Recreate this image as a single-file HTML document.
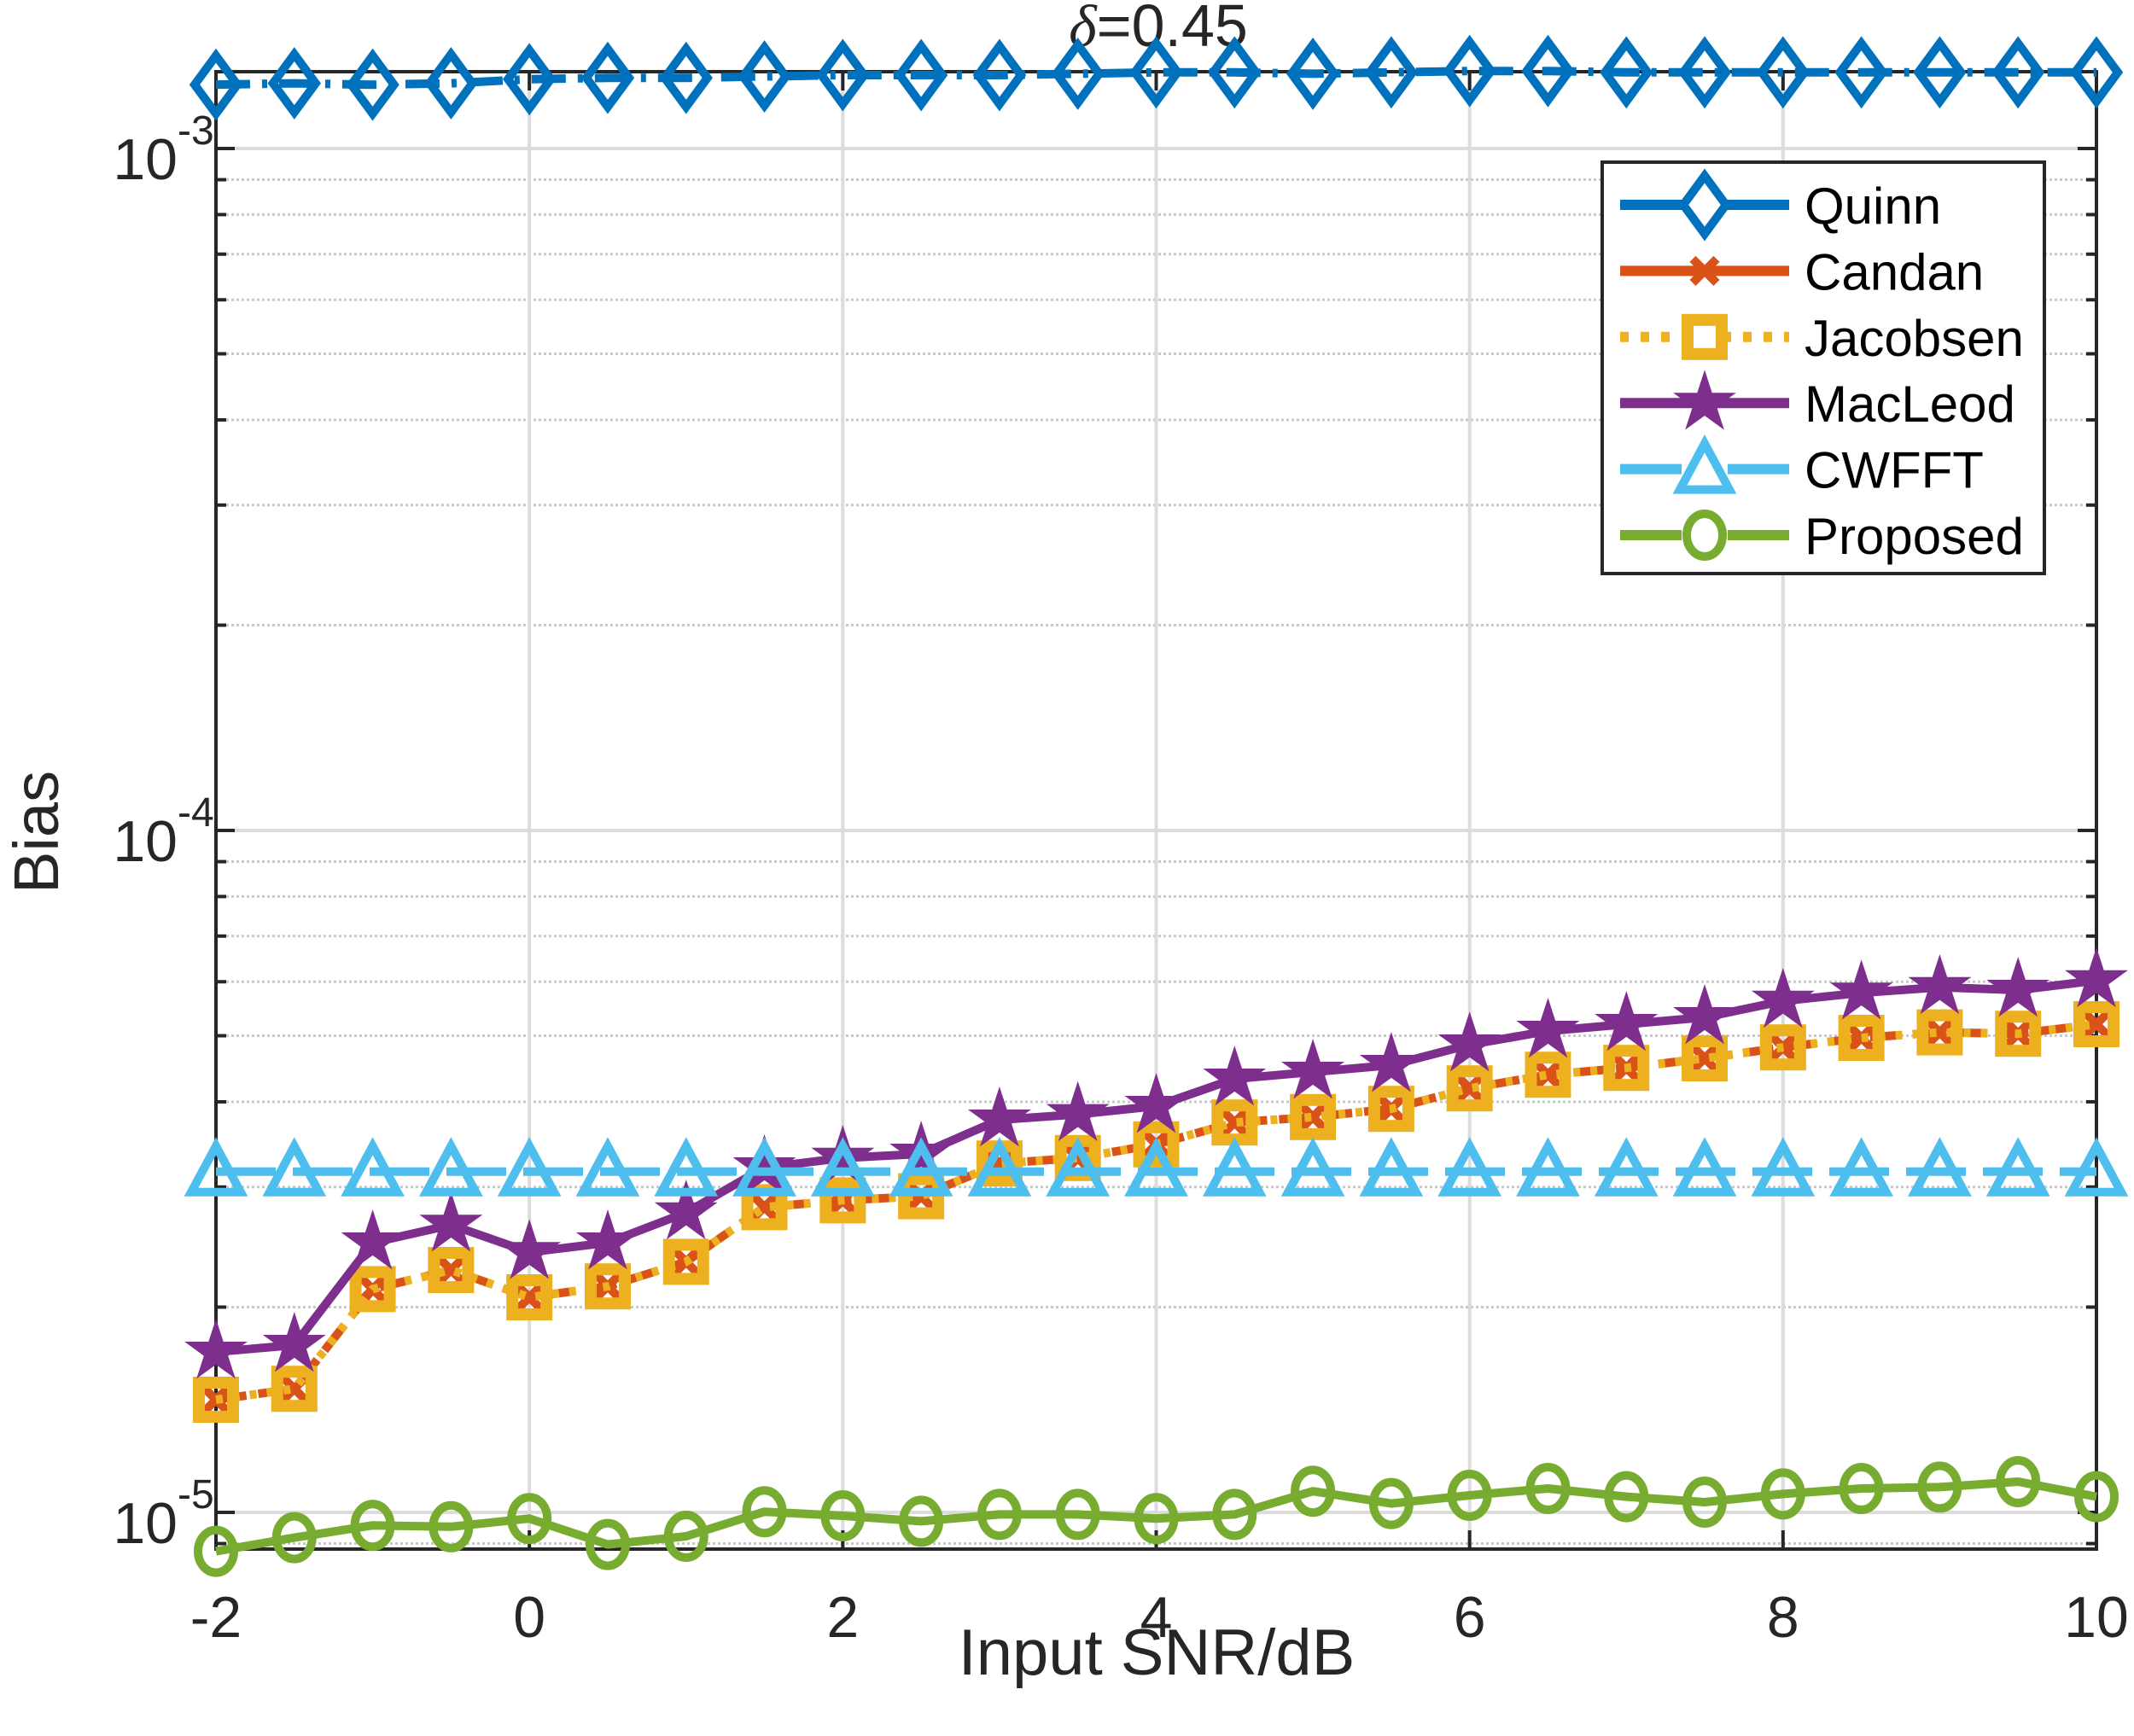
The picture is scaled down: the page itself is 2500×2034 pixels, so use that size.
<!DOCTYPE html>
<html><head><meta charset="utf-8"><style>
html,body{margin:0;padding:0;background:#fff}
svg{display:block}
text{font-family:"Liberation Sans",Arial,sans-serif;fill:#262626}
</style></head><body>
<svg id="s" width="2500" height="2034" viewBox="0 0 2500 2034" xmlns="http://www.w3.org/2000/svg"></svg>
<script>
const S=document.getElementById('s');const NS='http://www.w3.org/2000/svg';
function el(t,a,p){const e=document.createElementNS(NS,t);for(const k in a)e.setAttribute(k,a[k]);(p||S).appendChild(e);return e;}
const L=253,R=2456,T=84,B=1815;
const X=v=>L+(v+2)*(R-L)/12;
const Y=v=>174+(-3-Math.log10(v))*799;
for(let d=-6;d<=-3;d++)for(let m=2;m<=9;m++){const y=Y(m*Math.pow(10,d));if(y>T&&y<B)el('line',{x1:L,x2:R,y1:y,y2:y,stroke:'#c8c8c8','stroke-width':3,'stroke-dasharray':'3 3'});}
[1e-3,1e-4,1e-5].forEach(v=>el('line',{x1:L,x2:R,y1:Y(v),y2:Y(v),stroke:'#dcdcdc','stroke-width':4}));
for(let v=0;v<=8;v+=2)el('line',{x1:X(v),x2:X(v),y1:T,y2:B,stroke:'#dcdcdc','stroke-width':4});
el('rect',{x:L,y:T,width:R-L,height:B-T,fill:'none',stroke:'#262626','stroke-width':4});
for(let v=-2;v<=10;v+=2){el('line',{x1:X(v),x2:X(v),y1:B,y2:B-22,stroke:'#262626','stroke-width':4});el('line',{x1:X(v),x2:X(v),y1:T,y2:T+22,stroke:'#262626','stroke-width':4});
 const t=el('text',{x:X(v),y:1918,'font-size':68,'text-anchor':'middle'});t.textContent=v;}
for(let d=-6;d<=-3;d++)for(let m=1;m<=9;m++){const y=Y(m*Math.pow(10,d));if(y<T||y>B)continue;const len=m==1?22:12;
 el('line',{x1:L,x2:L+len,y1:y,y2:y,stroke:'#262626','stroke-width':4});el('line',{x1:R,x2:R-len,y1:y,y2:y,stroke:'#262626','stroke-width':4});}
[[1e-3,'-3'],[1e-4,'-4'],[1e-5,'-5']].forEach(([v,e])=>{const y=Y(v);
 const t=el('text',{x:208,y:y+36,'font-size':68,'text-anchor':'end'});t.textContent='10';
 const u=el('text',{x:208,y:y-5,'font-size':48,'text-anchor':'start'});u.textContent=e;});
let t=el('text',{x:1355,y:1962,'font-size':76,'text-anchor':'middle'});t.textContent='Input SNR/dB';
t=el('text',{x:0,y:0,'font-size':74,'text-anchor':'middle',transform:'translate(68,975) rotate(-90)'});t.textContent='Bias';
t=el('text',{x:1357,y:54,'font-size':70,'text-anchor':'middle'});t.innerHTML='<tspan font-style="italic" font-family="Liberation Serif">δ</tspan>=0.45';
const xs=[];for(let i=0;i<25;i++)xs.push(-2+i*0.5);
const f=1.6;
const quinn=[62,61,62,61,58,57,57,56,55,55,55,54,53,53,54,53,52,52,53,53,53,53,53,53,53];
const jac=[1025,1017,944,930,950,942,924,884,879,876,852,848,838,822,818,812,797,787,782,775,767,760,756,757,750];
const mac=[990,985,910,897,917,910,888,855,848,845,820,816,810,790,785,780,765,755,750,745,733,727,723,725,718];
const cw=Array(25).fill(858);
const prop=[1136,1126,1117,1118,1112,1131,1125,1107,1110,1114,1109,1109,1112,1109,1092,1101,1095,1090,1096,1100,1094,1090,1089,1085,1096];
const P=a=>a.map((y,i)=>[X(xs[i]),y*f]);
function line(pts,c,dash){el('polyline',{points:pts.map(p=>p.join(',')).join(' '),fill:'none',stroke:c,'stroke-width':10,'stroke-dasharray':dash||'none','stroke-linejoin':'round'});}
const M={
 diamond:(x,y,c)=>el('polygon',{points:`${x},${y-34} ${x+25},${y} ${x},${y+34} ${x-25},${y}`,fill:'none',stroke:c,'stroke-width':10}),
 x:(x,y,c)=>{el('path',{d:`M${x-14},${y-14}L${x+14},${y+14}M${x+14},${y-14}L${x-14},${y+14}`,stroke:c,'stroke-width':10});},
 sq:(x,y,c)=>el('rect',{x:x-20,y:y-20,width:40,height:40,fill:'none',stroke:c,'stroke-width':14}),
 star:(x,y,c)=>{let p=[];for(let k=0;k<10;k++){const r=k%2?13:34,a=-Math.PI/2+k*Math.PI/5;p.push((x+r*Math.cos(a)).toFixed(1)+','+(y+r*Math.sin(a)).toFixed(1));}el('polygon',{points:p.join(' '),fill:c,stroke:c,'stroke-width':3});},
 tri:(x,y,c)=>el('polygon',{points:`${x},${y-30} ${x+29},${y+24} ${x-29},${y+24}`,fill:'none',stroke:c,'stroke-width':10}),
 circ:(x,y,c)=>el('ellipse',{cx:x,cy:y,rx:21,ry:25,fill:'none',stroke:c,'stroke-width':10})
};
const series=[
 [quinn,'#0072BD','40 14 6 14','diamond'],
 [jac,'#D95319','36 14','x'],
 [jac,'#EDB120','8 12','sq'],
 [mac,'#7E2F8E',null,'star'],
 [cw,'#4DBEEE','70 20','tri'],
 [prop,'#77AC30',null,'circ']];
series.forEach(([d,c,da,m])=>{const p=P(d);line(p,c,da);p.forEach(([x,y])=>M[m](x,y,c));});
el('rect',{x:1877,y:190,width:518,height:482,fill:'#fff',stroke:'#262626','stroke-width':4});
const names=['Quinn','Candan','Jacobsen','MacLeod','CWFFT','Proposed'];
const lm=['diamond','x','sq','star','tri','circ'],lc=['#0072BD','#D95319','#EDB120','#7E2F8E','#4DBEEE','#77AC30'],ld=[null,null,'10 14',null,null,null];
names.forEach((n,i)=>{const y=240+i*77.4;
 el('line',{x1:1898,x2:2096,y1:y,y2:y,stroke:lc[i],'stroke-width':12,'stroke-dasharray':ld[i]||'none'});
 if(lm[i]=='diamond'||lm[i]=='tri'||lm[i]=='circ'||lm[i]=='sq')el('rect',{x:1970,y:y-20,width:54,height:40,fill:'#fff'});
 M[lm[i]](1997,y,lc[i]);
 const tt=el('text',{x:2114,y:y+22,'font-size':60,fill:'#000'});tt.style.fill='#000';tt.textContent=n;});
</script>
</body></html>
